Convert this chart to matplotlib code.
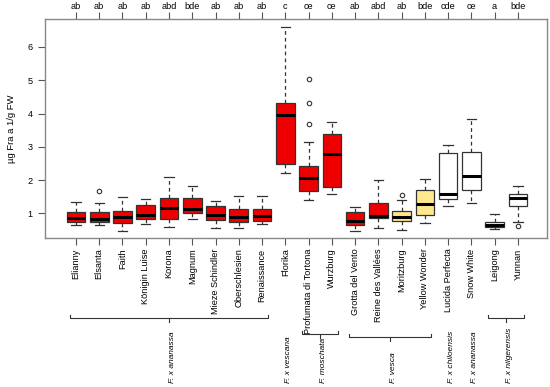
import matplotlib
matplotlib.use("Agg")
import matplotlib.pyplot as plt
from matplotlib.transforms import blended_transform_factory

plt.rcParams['font.family'] = ['Liberation Sans', 'DejaVu Sans']

cultivars = ["Elianny", "Elsanta", "Faith", "Königin Luise", "Korona", "Magnum",
             "Mieze Schindler", "Oberschlesien", "Renaissance", "Florika",
             "Profumata di Tortona", "Wurzburg", "Grotta del Vento",
             "Reine des Vallées", "Moritzburg", "Yellow Wonder",
             "Lucida Perfecta", "Snow White", "Leigong", "Yunnan"]
letters = ["ab", "ab", "ab", "ab", "abd", "bde", "ab", "ab", "ab", "c",
           "ce", "ce", "ab", "abd", "ab", "bde", "cde", "ce", "a", "bde"]
whislo = [0.64, 0.64, 0.48, 0.67, 0.59, 0.82, 0.55, 0.57, 0.67, 2.21,
          1.39, 1.58, 0.48, 0.57, 0.51, 0.70, 1.23, 1.31, 0.52, 0.74]
q1 = [0.73, 0.73, 0.70, 0.83, 0.84, 1.01, 0.81, 0.74, 0.76, 2.49,
      1.68, 1.80, 0.66, 0.86, 0.78, 0.94, 1.42, 1.70, 0.58, 1.21]
med = [0.86, 0.84, 0.90, 0.96, 1.17, 1.14, 0.95, 0.90, 0.93, 3.97,
       2.07, 2.77, 0.77, 0.93, 0.90, 1.27, 1.58, 2.12, 0.66, 1.45]
q3 = [1.04, 1.04, 1.07, 1.26, 1.45, 1.45, 1.22, 1.13, 1.14, 4.33,
      2.42, 3.38, 1.05, 1.31, 1.07, 1.70, 2.80, 2.84, 0.73, 1.57]
whishi = [1.34, 1.31, 1.49, 1.42, 2.10, 1.83, 1.37, 1.52, 1.52, 6.61,
          3.14, 3.74, 1.19, 2.00, 1.40, 2.04, 3.05, 3.83, 0.99, 1.82]
fliers = [[], [1.68], [], [], [], [], [], [], [], [],
          [3.68, 4.33, 5.03], [], [], [], [1.54], [], [], [], [], [0.62]]
colour_group = ["red"] * 14 + ["yellow"] * 2 + ["white"] * 4
palette = {"red": "#EE0000", "yellow": "#FFE98C", "white": "#FFFFFF"}

species = ["F. x ananassa", "F. x vescana", "F. moschata", "F. vesca",
           "F. x chiloensis", "F. x ananassa", "F. x nilgerensis"]
species_first = [1, 10, 11, 13, 17, 18, 19]
species_last = [9, 10, 12, 16, 17, 18, 20]
bracket_px = [318, None, 334, 337, None, None, 318]

W, H = 550, 387
fig = plt.figure(figsize=(W / 100, H / 100), dpi=100)
ax = fig.add_axes([45 / W, 1 - 238 / H, (547 - 45) / W, (238 - 19) / H])

positions = list(range(1, len(cultivars) + 1))
stats = []
for i in range(len(cultivars)):
    stats.append(dict(label=cultivars[i], whislo=whislo[i], q1=q1[i], med=med[i],
                      q3=q3[i], whishi=whishi[i], fliers=fliers[i]))

bp = ax.bxp(stats, positions=positions, widths=0.8, patch_artist=True,
            capwidths=0.4,
            boxprops=dict(edgecolor="#333333", linewidth=0.9),
            whiskerprops=dict(color="#333333", linewidth=0.9, linestyle=(0, (3, 2.5))),
            capprops=dict(color="#333333", linewidth=0.9),
            medianprops=dict(color="black", linewidth=2.2),
            flierprops=dict(marker="o", markerfacecolor="none",
                            markeredgecolor="#333333", markersize=3.2,
                            markeredgewidth=0.8))
for patch, g in zip(bp["boxes"], colour_group):
    patch.set_facecolor(palette[g])

ax.set_xlim(-0.33, 21.25)
ax.set_ylim(0.26, 6.84)
for s in ax.spines.values():
    s.set_color("#888888")
    s.set_linewidth(1.0)

ax.set_xticks(positions)
ax.set_xticklabels(cultivars, rotation=90, fontsize=6.6)
ax.set_yticks([1, 2, 3, 4, 5, 6])
ax.set_yticklabels(["1", "2", "3", "4", "5", "6"], fontsize=6.6)
ax.tick_params(axis="both", direction="out", length=5, width=0.8,
               color="#555555", pad=2.5)
ax.tick_params(axis="y", pad=4)
ax.set_ylabel("µg Fra a 1/g FW", fontsize=6.8, labelpad=8)

top = ax.secondary_xaxis("top")
top.set_xticks(positions)
top.set_xticklabels(letters, fontsize=6.6)
top.tick_params(direction="out", length=5, width=0.8, color="#555555", pad=1)
top.spines["top"].set_visible(False)

tr = blended_transform_factory(ax.transData, fig.transFigure)
for name, a, b, ypx in zip(species, species_first, species_last, bracket_px):
    cx = (a + b) / 2
    if ypx is not None:
        x0, x1 = a - 0.27, b + 0.27
        y = 1 - ypx / H
        hook = 3 / H
        tick = 4 / H
        ax.plot([x0, x0, x1, x1], [y + hook, y, y, y + hook], transform=tr,
                color="#333333", lw=0.8, clip_on=False)
        ax.plot([cx, cx], [y, y - tick], transform=tr, color="#333333",
                lw=0.8, clip_on=False)
    ax.text(cx + 0.15, 1 - 383 / H, name, transform=tr, rotation=90,
            ha="center", va="bottom", fontsize=6.0, style="italic", clip_on=False)

fig.savefig("out.png", dpi=100)
